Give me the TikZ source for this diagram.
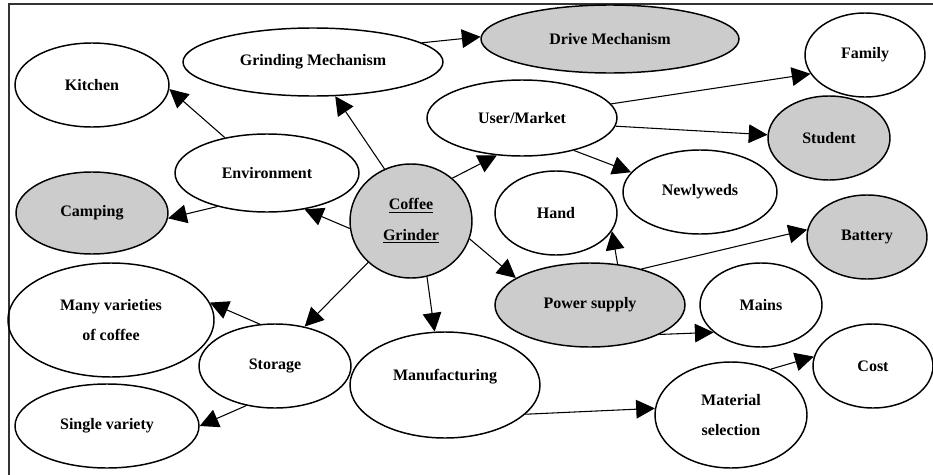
\documentclass[tikz,border=0pt]{standalone}
\usepackage{fontspec}
\setmainfont{Liberation Serif}
\usetikzlibrary{shapes.geometric,arrows.meta}
\definecolor{bubgray}{RGB}{204,204,204}
\begin{document}
\begin{tikzpicture}[x=0.75pt,y=-0.75pt,
  bub/.style 2 args={ellipse,draw,line width=1.1pt,inner sep=0pt,
    minimum width=#1*1.5pt,minimum height=#2*1.5pt,
    font=\fontsize{12}{23}\selectfont\bfseries,align=center},
  shaded/.style={fill=bubgray},
  link/.style={line width=0.8pt,-{Triangle[length=14pt,width=14pt]}}]
\useasboundingbox (0,0) rectangle (933,475);
\draw[line width=1.4pt,black!80] (9,485) -- (9,4) -- (945,4);

\node[bub={77}{42}] (kitchen) at (92,85) {Kitchen};
\node[bub={130}{34}] (grind) at (313,62) {Grinding Mechanism};
\node[bub={92}{39}] (env) at (267,173) {Environment};
\node[bub={76}{41},shaded] (camp) at (92,213) {Camping};
\node[bub={61}{57},shaded] (coffee) at (411,221) {\underline{Coffee}\\\underline{Grinder}};
\node[bub={129}{34},shaded] (drive) at (610,39) {Drive Mechanism};
\node[bub={60}{42}] (family) at (865,55) {Family};
\node[bub={95}{38}] (user) at (522,118) {User/Market};
\node[bub={61}{42},shaded] (student) at (829,138) {Student};
\node[bub={77}{42}] (newly) at (700,192) {Newlyweds};
\node[bub={61}{42}] (hand) at (556,213) {Hand};
\node[bub={60}{42},shaded] (battery) at (867,237) {Battery};
\node[bub={95}{42},shaded] (power) at (590,305) {Power supply};
\node[bub={61}{42}] (mains) at (761,305) {Mains};
\node[bub={60}{42}] (cost) at (873,366) {Cost};
\node[bub={76}{53}] (mat) at (731,415) {Material\\selection};
\node[bub={95}{53}] (manu) at (445,385) {Manufacturing\\[-8pt]\mbox{}};
\node[bub={76}{42}] (storage) at (275,366) {Storage};
\node[bub={103}{57}] (many) at (111,320) {Many varieties\\of coffee};
\node[bub={92}{42}] (single) at (107,426) {Single variety};

\draw[link] (grind.10) -- (drive.179);
\draw[link] (coffee.117) -- (grind.303);
\draw[link] (env.140) -- (kitchen.-3);
\draw[link] (env.214) -- (camp.-4);
\draw[link] (coffee.187) -- (env.-44);
\draw[link] (coffee.46) -- (user.236);
\draw[link] (user.9.5) -- (family.199);
\draw[link] (user.-5) -- (student.177);
\draw[link] (user.-32) -- (newly.164);
\draw[link] (power.56) -- (hand.-18);
\draw[link] (power.35) -- (battery.173);
\draw[link] (coffee.-17) -- (power.160);
\draw[link] (power.-23) -- (mains.210);
\draw[link] (coffee.224) -- (storage.53);
\draw[link] (coffee.-74) -- (manu.101);
\draw[link] (storage.110) -- (many.10);
\draw[link] (storage.234) -- (single.0);
\draw[link] (manu.-20) -- (mat.175);
\draw[link] (mat.49) -- (cost.171);
\end{tikzpicture}
\end{document}
